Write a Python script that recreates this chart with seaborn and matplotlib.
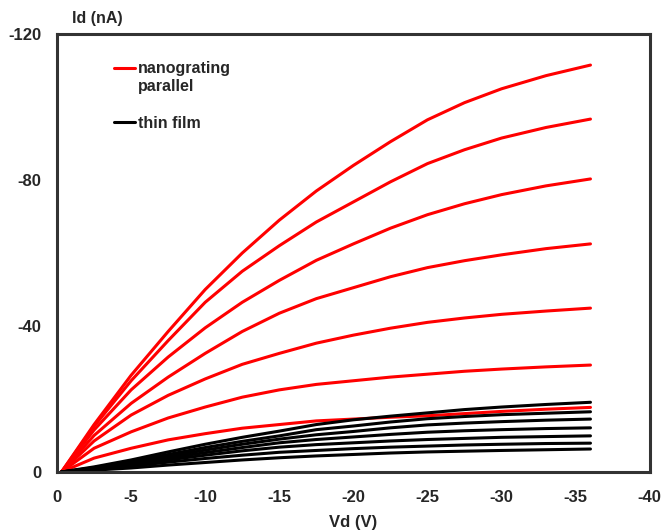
import matplotlib
matplotlib.use("Agg")
import matplotlib.pyplot as plt
from matplotlib.lines import Line2D
from matplotlib.legend_handler import HandlerLine2D
import seaborn as sns
import pandas as pd

# drain voltage sample points (V)
vd = [-0.3, -2.5, -5, -7.5, -10, -12.5, -15, -17.5, -20, -22.5, -25, -27.5, -30, -33, -36]

# nanograting parallel, Id (nA), top curve first
red_1 = [0, -13.0, -26.5, -38.5, -50.0, -60.0, -69.0, -77.0, -84.0, -90.5, -96.5, -101.2, -105.0, -108.6, -111.5]
red_2 = [0, -12.5, -25.0, -36.0, -46.5, -55.0, -62.0, -68.5, -74.0, -79.5, -84.5, -88.3, -91.5, -94.4, -96.7]
red_3 = [0, -11.5, -22.5, -31.5, -39.5, -46.5, -52.5, -58.0, -62.5, -66.8, -70.5, -73.5, -76.0, -78.4, -80.3]
red_4 = [0, -10.0, -18.8, -26.0, -32.5, -38.5, -43.5, -47.5, -50.5, -53.5, -56.0, -57.9, -59.5, -61.2, -62.5]
red_5 = [0, -8.5, -15.6, -21.0, -25.5, -29.5, -32.5, -35.3, -37.5, -39.4, -41.0, -42.2, -43.2, -44.1, -44.9]
red_6 = [0, -6.5, -11.0, -14.8, -17.8, -20.5, -22.5, -24.0, -25.0, -26.0, -26.8, -27.6, -28.2, -28.8, -29.3]
red_7 = [0, -3.8, -6.5, -8.8, -10.5, -12.0, -13.0, -14.0, -14.5, -15.0, -15.4, -16.0, -16.6, -17.2, -17.7]

# thin film, Id (nA), top curve first
black_1 = [0, -1.4, -3.3, -5.5, -7.6, -9.5, -11.2, -13.0, -14.3, -15.3, -16.2, -17.1, -17.8, -18.5, -19.1]
black_2 = [0, -1.2, -2.9, -4.8, -6.7, -8.4, -9.9, -11.6, -12.6, -13.7, -14.6, -15.2, -15.7, -16.1, -16.5]
black_3 = [0, -1.1, -2.6, -4.3, -6.0, -7.6, -9.0, -10.2, -11.1, -12.1, -12.9, -13.4, -13.8, -14.2, -14.5]
black_4 = [0, -1.0, -2.3, -3.8, -5.3, -6.7, -8.0, -8.9, -9.6, -10.3, -10.9, -11.3, -11.6, -11.9, -12.1]
black_5 = [0, -0.8, -2.0, -3.3, -4.6, -5.8, -6.8, -7.5, -8.0, -8.5, -8.9, -9.2, -9.5, -9.7, -9.9]
black_6 = [0, -0.7, -1.6, -2.7, -3.7, -4.6, -5.4, -5.9, -6.4, -6.8, -7.1, -7.4, -7.6, -7.8, -7.9]
black_7 = [0, -0.5, -1.1, -1.9, -2.6, -3.3, -3.9, -4.4, -4.8, -5.2, -5.5, -5.7, -5.9, -6.1, -6.3]

red_curves = [red_1, red_2, red_3, red_4, red_5, red_6, red_7]
black_curves = [black_1, black_2, black_3, black_4, black_5, black_6, black_7]

rows = []
for i, c in enumerate(red_curves):
    for v, d in zip(vd, c):
        rows.append({"Vd": v, "Id": d, "curve": f"r{i}", "kind": "nanograting"})
for i, c in enumerate(black_curves):
    for v, d in zip(vd, c):
        rows.append({"Vd": v, "Id": d, "curve": f"b{i}", "kind": "thin film"})
df = pd.DataFrame(rows)

sns.set_style("white")
plt.rcParams["font.family"] = ["Liberation Sans", "DejaVu Sans"]
plt.rcParams["font.weight"] = "bold"
plt.rcParams["axes.unicode_minus"] = False

fig = plt.figure(figsize=(6.63, 5.32), dpi=100)
ax = fig.add_axes([0.086, 0.1128, 0.894, 0.8232])

pal = {f"r{i}": "#ff0000" for i in range(7)}
pal.update({f"b{i}": "#000000" for i in range(7)})

# red first so the thin-film curves sit on top where they cross
sns.lineplot(df[df["kind"] == "nanograting"], x="Vd", y="Id", hue="curve", palette=pal,
             estimator=None, sort=False, legend=False, linewidth=2.2, ax=ax)
sns.lineplot(df[df["kind"] == "thin film"], x="Vd", y="Id", hue="curve", palette=pal,
             estimator=None, sort=False, legend=False, linewidth=2.2, ax=ax)

ax.set_xlim(0, -40)
ax.set_ylim(0, -120)
ax.set_xticks([0, -5, -10, -15, -20, -25, -30, -35, -40])
ax.set_yticks([0, -40, -80, -120])
ax.tick_params(direction="in", length=4, width=0.8, color="#999999", labelsize=12)
ax.tick_params(axis="x", pad=13)
ax.tick_params(axis="y", pad=11)
for lab in ax.get_xticklabels() + ax.get_yticklabels():
    lab.set_fontweight("bold")
for sp in ax.spines.values():
    sp.set_color("#333333")
    sp.set_linewidth(2.2)

ax.set_xlabel("Vd (V)", fontsize=12, fontweight="bold", labelpad=7)
ax.set_ylabel("")
fig.text(72 / 663, 1 - 18 / 532, "Id (nA)", fontsize=11.5, fontweight="bold", va="center", ha="left")


class TopLine(HandlerLine2D):
    # put the key next to the first line of a two-line label
    def __init__(self, shift=0.0, **kw):
        super().__init__(**kw)
        self.shift = shift

    def create_artists(self, legend, orig_handle, xdescent, ydescent, width, height, fontsize, trans):
        arts = super().create_artists(legend, orig_handle, xdescent, ydescent, width, height, fontsize, trans)
        for a in arts:
            a.set_ydata([y + self.shift * fontsize for y in a.get_ydata()])
        return arts


h_red = Line2D([], [], color="#ff0000", lw=2.2)
h_black = Line2D([], [], color="#000000", lw=2.2)
ax.legend([h_red, h_black], ["nanograting\nparallel", "thin film"], loc="upper left",
          bbox_to_anchor=(0.096, 0.938), frameon=False, borderpad=0, borderaxespad=0,
          handlelength=1.3, handletextpad=0.2, labelspacing=1.4,
          handler_map={h_red: TopLine(shift=0.6)},
          prop={"weight": "bold", "size": 11.5})

fig.savefig("out.png", dpi=100)
